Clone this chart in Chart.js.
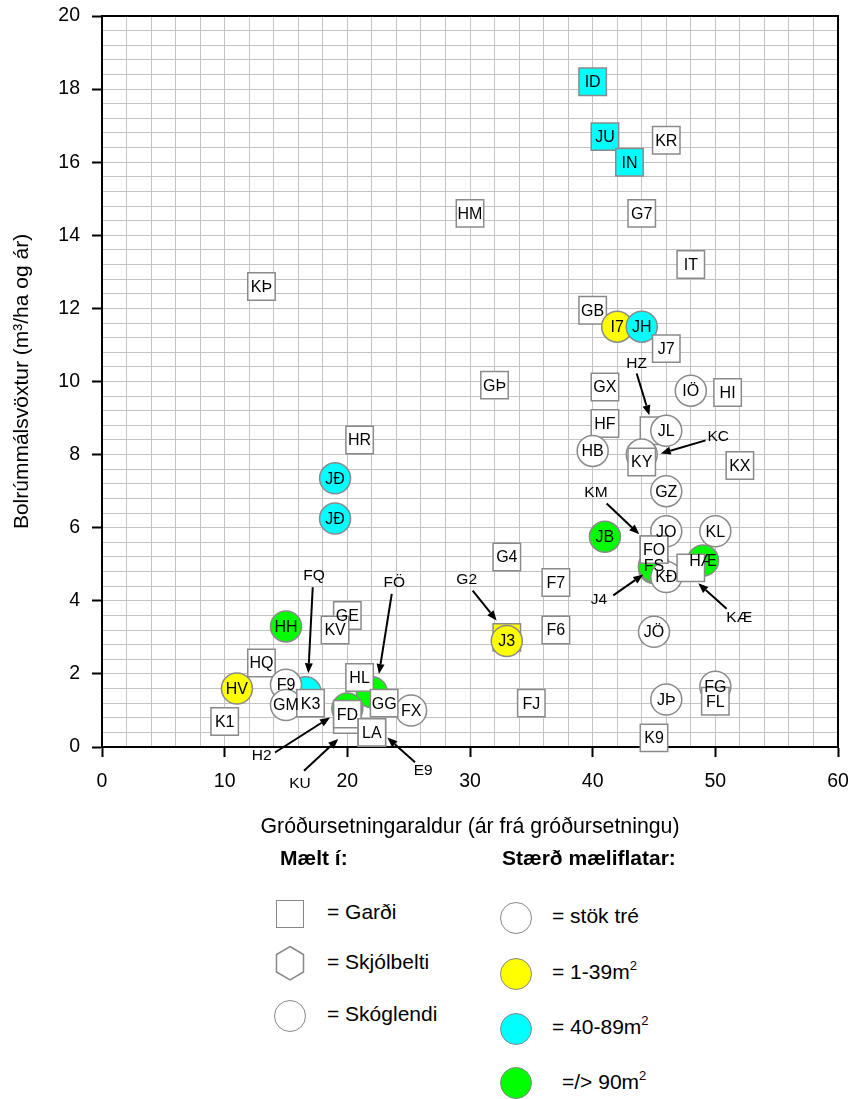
<!DOCTYPE html>
<html lang="is">
<head>
<meta charset="utf-8">
<title>Bolrúmmálsvöxtur</title>
<script src="https://cdn.jsdelivr.net/npm/chart.js@4.4.1/dist/chart.umd.min.js"></script>
<style>
  body { margin: 0; background: #fff; font-family: "Liberation Sans", Arial, sans-serif; }
  #wrap { position: absolute; left: 0; top: 0; width: 852px; height: 847px; }
  .lg { position: absolute; font-size: 21px; line-height: 24px; height: 24px; white-space: nowrap; color: #000; }
  .sq { position: absolute; width: 28px; height: 28px; box-sizing: border-box; border: 1.5px solid #888; background: #fff; }
  .ci { position: absolute; width: 32px; height: 32px; box-sizing: border-box; border: 1.5px solid #888; border-radius: 50%; }
  .lg sup { font-size: 13px; vertical-align: 9px; line-height: 0; }
</style>
</head>
<body>
<div id="wrap"><canvas id="chart"></canvas></div>

<!-- skýringar undir myndinni -->
<div class="lg" style="left:280px; top:846px; font-weight:bold;">Mælt í:</div>
<div class="lg" style="left:502px; top:846px; font-weight:bold;">Stærð mæliflatar:</div>

<div class="sq" style="left:276px; top:900px;"></div>
<div class="lg" style="left:327px; top:900px;">= Garði</div>
<svg style="position:absolute; left:275px; top:945px;" width="30" height="37">
  <polygon points="15,1.5 28.5,9.5 28.5,27 15,35 1.5,27 1.5,9.5" fill="#fff" stroke="#888" stroke-width="1.5"/>
</svg>
<div class="lg" style="left:327px; top:950px;">= Skjólbelti</div>
<div class="ci" style="left:274px; top:1000px; background:#fff;"></div>
<div class="lg" style="left:327px; top:1002px;">= Skóglendi</div>

<div class="ci" style="left:500px; top:902px; background:#fff;"></div>
<div class="lg" style="left:552px; top:904px;">= stök tré</div>
<div class="ci" style="left:500px; top:958px; background:#ffff00;"></div>
<div class="lg" style="left:552px; top:960px;">= 1-39m<sup>2</sup></div>
<div class="ci" style="left:500px; top:1013px; background:#00ffff;"></div>
<div class="lg" style="left:552px; top:1015px;">= 40-89m<sup>2</sup></div>
<div class="ci" style="left:500px; top:1067px; background:#00ff00;"></div>
<div class="lg" style="left:562px; top:1070px;">=/&gt; 90m<sup>2</sup></div>

<script>
// mælistaðir, í þeirri röð sem þeir eru teiknaðir (síðari ofan á)
const names = ['ID', 'JU', 'IN', 'KR', 'G7', 'IT', 'HM', 'KÞ', 'GÞ', 'HR',
  'JÐ', 'JÐ', 'GB', 'I7', 'JH', 'J7', 'GX', 'HF', 'HB', 'IÖ',
  'HI', 'KX', 'HZ', 'JL', 'KC', 'KY', 'GZ', 'JO', 'KL', 'JB',
  'J4', 'FS', 'KÐ', 'KM', 'FO', 'HÆ', 'KÆ', 'F7', 'F6', 'JÖ',
  'FG', 'FL', 'JÞ', 'K9', 'G4', 'G2', 'J3', 'FJ', 'FX', 'HH',
  'GE', 'KV', 'HQ', 'HV', 'K1', 'FQ', 'F9', 'GM', 'K3', 'FÖ',
  'H2', 'HL', 'GG', 'KU', 'FD', 'E9', 'LA'];
// gróðursetningaraldur (ár)
const ages = [40, 41, 43, 46, 44, 48, 30, 13, 32, 21,
  19, 19, 40, 42, 44, 46, 41, 41, 40, 48,
  51, 52, 45, 46, 44, 44, 46, 46, 50, 41,
  45, 45, 46, 45, 45, 49, 48, 37, 37, 45,
  50, 50, 46, 45, 33, 33, 33, 35, 25.2, 15,
  20, 19, 13, 11, 10, 16.6, 15, 15, 17, 22,
  20, 21, 23, 20, 20, 22, 22];
// bolrúmmálsvöxtur (m3/ha og ár)
const growth = [18.2, 16.7, 16.0, 16.6, 14.6, 13.2, 14.6, 12.6, 9.9, 8.4,
  7.35, 6.25, 11.95, 11.5, 11.5, 10.9, 9.85, 8.85, 8.1, 9.75,
  9.7, 7.7, 8.65, 8.65, 8.0, 7.8, 7.0, 5.9, 5.9, 5.75,
  4.9, 4.95, 4.65, 5.4, 5.4, 5.1, 4.9, 4.5, 3.2, 3.15,
  1.65, 1.25, 1.3, 0.25, 5.2, 3.0, 2.9, 1.2, 1.0, 3.3,
  3.6, 3.2, 2.3, 1.6, 0.7, 1.5, 1.7, 1.15, 1.2, 1.5,
  1.05, 1.9, 1.2, 0.75, 0.9, 0.4, 0.4];
// mælt í: G = garði, S = skóglendi
const site = ['G', 'G', 'G', 'G', 'G', 'G', 'G', 'G', 'G', 'G',
  'S', 'S', 'G', 'S', 'S', 'G', 'G', 'G', 'S', 'S',
  'G', 'G', 'G', 'S', 'S', 'G', 'S', 'S', 'S', 'S',
  'S', 'S', 'S', 'G', 'G', 'S', 'G', 'G', 'G', 'S',
  'S', 'G', 'S', 'G', 'G', 'G', 'S', 'G', 'S', 'S',
  'G', 'G', 'G', 'S', 'G', 'S', 'S', 'S', 'G', 'S',
  'S', 'G', 'G', 'G', 'G', 'G', 'G'];
// stærð mæliflatar: 0 = stök tré, 1 = 1-39 m2, 2 = 40-89 m2, 3 = 90 m2 og stærri
const plotSize = [2, 2, 2, 0, 0, 0, 0, 0, 0, 0,
  2, 2, 0, 1, 2, 0, 0, 0, 0, 0,
  0, 0, 0, 0, 0, 0, 0, 0, 0, 3,
  3, 3, 0, 0, 0, 3, 0, 0, 0, 0,
  0, 0, 0, 0, 0, 1, 1, 0, 0, 3,
  0, 0, 0, 1, 0, 2, 0, 0, 0, 3,
  3, 0, 0, 0, 0, 0, 0];

const xTickLabels = [0, 10, 20, 30, 40, 50, 60];
const yTickLabels = [0, 2, 4, 6, 8, 10, 12, 14, 16, 18, 20];

// merkingar með örvum: [nafn, staða texta, upphaf örvar, oddur örvar] í gildum ása
const callouts = [
  ['HZ', [43.59, 10.49], [43.59, 10.22], [44.62, 9.08]],
  ['KC', [50.24, 8.50], [49.21, 8.39], [45.55, 8.03]],
  ['KM', [40.27, 6.95], [41.14, 6.66], [43.80, 5.82]],
  ['J4', [40.52, 4.03], [41.68, 4.15], [44.13, 4.72]],
  ['KÆ', [51.95, 3.55], [50.92, 3.78], [48.61, 4.48]],
  ['FQ', [17.28, 4.69], [17.18, 4.37], [16.82, 2.02]],
  ['FÖ', [23.83, 4.49], [23.62, 4.19], [22.58, 2.0]],
  ['G2', [29.73, 4.58], [30.22, 4.28], [32.17, 3.46]],
  ['H2', [13.02, -0.24], [14.1, -0.15], [18.59, 0.81]],
  ['KU', [16.14, -1.01], [16.47, -0.65], [19.26, 0.22]],
  ['E9', [26.19, -0.65], [25.52, -0.42], [23.26, 0.26]]
];

const sizeColors = ['#ffffff', '#ffff00', '#00ffff', '#00ff00'];
const calloutNames = callouts.map(c => c[0]);
const onTick = (v, list) => list.some(t => Math.abs(t - v) < 1e-6);

// rammi efst og til hægri
const framePlugin = {
  id: 'frame',
  beforeDatasetsDraw(chart) {
    const {ctx, chartArea: a} = chart;
    ctx.save();
    ctx.strokeStyle = '#000';
    ctx.lineWidth = 2;
    ctx.beginPath();
    ctx.moveTo(a.left, a.top);
    ctx.lineTo(a.right, a.top);
    ctx.lineTo(a.right, a.bottom);
    ctx.stroke();
    ctx.restore();
  }
};

function drawArrow(ctx, x1, y1, x2, y2) {
  const ang = Math.atan2(y2 - y1, x2 - x1);
  const len = 10, half = 4;
  const bx = x2 - len * Math.cos(ang), by = y2 - len * Math.sin(ang);
  ctx.beginPath();
  ctx.moveTo(x1, y1);
  ctx.lineTo(bx, by);
  ctx.stroke();
  ctx.beginPath();
  ctx.moveTo(x2, y2);
  ctx.lineTo(bx + half * Math.sin(ang), by - half * Math.cos(ang));
  ctx.lineTo(bx - half * Math.sin(ang), by + half * Math.cos(ang));
  ctx.closePath();
  ctx.fill();
}

// nöfn á punktum og merkingar með örvum
const labelPlugin = {
  id: 'pointLabels',
  afterDatasetsDraw(chart) {
    const {ctx} = chart;
    const xs = chart.scales.x, ys = chart.scales.y;
    const meta = chart.getDatasetMeta(0);
    ctx.save();
    ctx.fillStyle = '#000';
    ctx.strokeStyle = '#000';
    ctx.textAlign = 'center';
    ctx.textBaseline = 'middle';
    ctx.font = '16px "Liberation Sans", Arial, sans-serif';
    meta.data.forEach((pt, i) => {
      if (calloutNames.includes(names[i])) return;
      ctx.fillText(names[i], pt.x, pt.y + 1);
    });
    ctx.font = '15.5px "Liberation Sans", Arial, sans-serif';
    ctx.lineWidth = 2;
    callouts.forEach(([name, lab, from, to]) => {
      ctx.fillText(name, xs.getPixelForValue(lab[0]), ys.getPixelForValue(lab[1]));
      drawArrow(ctx,
        xs.getPixelForValue(from[0]), ys.getPixelForValue(from[1]),
        xs.getPixelForValue(to[0]), ys.getPixelForValue(to[1]));
    });
    ctx.restore();
  }
};

const fontFamily = '"Liberation Sans", Arial, sans-serif';

new Chart(document.getElementById('chart'), {
  type: 'scatter',
  data: {
    datasets: [{
      data: ages.map((x, i) => ({x: x, y: growth[i]})),
      pointStyle: c => site[c.dataIndex] === 'G' ? 'rect' : 'circle',
      pointRadius: c => site[c.dataIndex] === 'G' ? 19.4 : 15.5,
      pointHoverRadius: c => site[c.dataIndex] === 'G' ? 19.4 : 15.5,
      pointBackgroundColor: c => sizeColors[plotSize[c.dataIndex]],
      pointBorderColor: '#8a8a8a',
      pointBorderWidth: 1.5,
      showLine: false,
      clip: false
    }]
  },
  options: {
    responsive: true,
    maintainAspectRatio: false,
    animation: false,
    events: [],
    layout: { autoPadding: false, padding: { top: 16, right: 14, left: 0, bottom: 0 } },
    scales: {
      x: {
        type: 'linear',
        min: 0,
        max: 60,
        afterFit: s => {
          s.height = 100;
          s.paddingLeft = 0;
          s.paddingRight = 0;
        },
        ticks: {
          stepSize: 2,
          autoSkip: false,
          maxRotation: 0,
          padding: 13,
          color: '#000',
          font: { family: fontFamily, size: 19.5 },
          callback: v => onTick(v, xTickLabels) ? String(v) : ''
        },
        grid: {
          color: '#c3c3c3',
          lineWidth: 1,
          tickLength: 10,
          tickWidth: 2,
          tickColor: c => (c.tick && onTick(c.tick.value, xTickLabels)) ? '#000' : 'rgba(0,0,0,0)'
        },
        border: { color: '#000', width: 2 },
        title: {
          display: true,
          text: 'Gróðursetningaraldur (ár frá gróðursetningu)',
          color: '#000',
          font: { family: fontFamily, size: 21.3 },
          padding: { top: 0, bottom: 7 }
        }
      },
      y: {
        min: 0,
        max: 20,
        afterFit: s => {
          s.width = 102;
          s.paddingTop = 0;
          s.paddingBottom = 0;
        },
        ticks: {
          stepSize: 0.4,
          autoSkip: false,
          padding: 12,
          color: '#000',
          font: { family: fontFamily, size: 19.5 },
          callback: v => onTick(v, yTickLabels) ? String(Math.round(v)) : ''
        },
        grid: {
          color: '#c3c3c3',
          lineWidth: 1,
          tickLength: 10,
          tickWidth: 2,
          tickColor: c => (c.tick && onTick(c.tick.value, yTickLabels)) ? '#000' : 'rgba(0,0,0,0)'
        },
        border: { color: '#000', width: 2 },
        title: {
          display: true,
          text: 'Bolrúmmálsvöxtur (m³/ha og ár)',
          color: '#000',
          font: { family: fontFamily, size: 21 },
          padding: { top: 10, bottom: 0 }
        }
      }
    },
    plugins: {
      legend: { display: false },
      tooltip: { enabled: false }
    }
  },
  plugins: [framePlugin, labelPlugin]
});
</script>
</body>
</html>
